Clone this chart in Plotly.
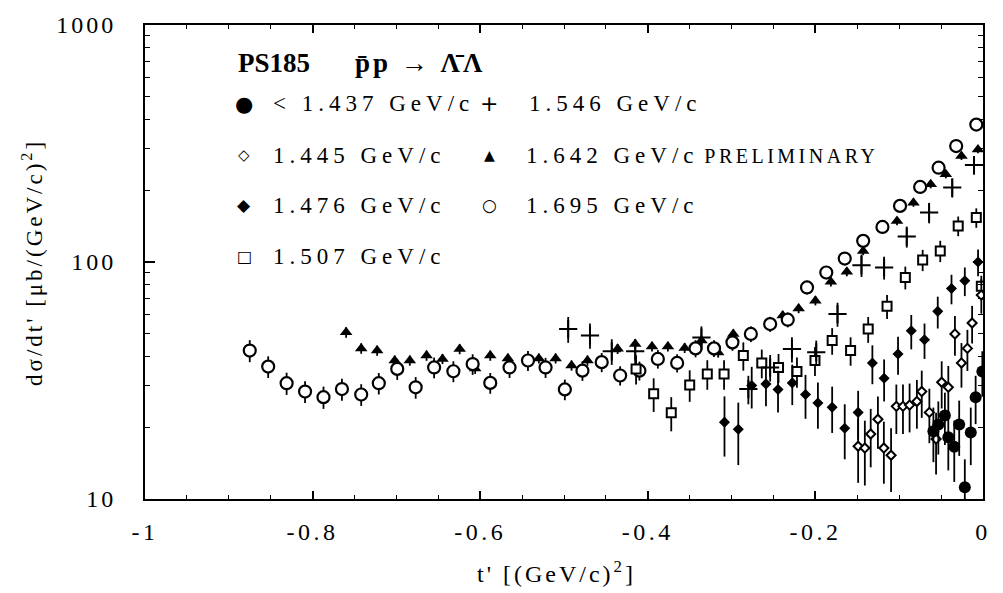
import plotly.graph_objects as go

# ---------------- data ----------------
# <1.437 GeV/c (filled circles)
t_1437 = [-0.0592, -0.0533, -0.0455, -0.0414, -0.0343, -0.0284, -0.0217, -0.0146, -0.0088, -0.0008]
s_1437 = [19.3, 20.6, 22.5, 18.2, 16.6, 20.6, 11.2, 19.1, 26.9, 34.5]
e_1437 = [5.0, 5.2, 5.6, 5.0, 4.8, 5.4, 3.5, 5.2, 6.2, 7.5]

# 1.445 GeV/c (open diamonds)
t_1445 = [-0.149, -0.141, -0.134, -0.1254, -0.1183, -0.1097, -0.1034, -0.0955, -0.0876, -0.0789,
          -0.0731, -0.064, -0.056, -0.0493, -0.0414, -0.0335, -0.0257, -0.0186, -0.013, -0.002]
s_1445 = [16.7, 16.4, 18.8, 21.7, 16.4, 15.3, 24.6, 24.6, 24.9, 25.8,
          28.4, 23.2, 17.9, 31.1, 29.6, 49.7, 37.5, 43.2, 55.3, 72.5]
e_1445 = [5.0, 5.0, 5.2, 5.4, 4.8, 4.6, 5.8, 5.8, 5.8, 6.0,
          6.4, 6.0, 5.2, 7.0, 6.8, 9.5, 8.0, 8.5, 10.0, 12.0]

# 1.476 GeV/c (filled diamonds)
t_1476 = [-0.3085, -0.292, -0.276, -0.259, -0.2446, -0.2276, -0.2118, -0.197, -0.180, -0.165,
          -0.149, -0.132, -0.118, -0.1014, -0.0856, -0.0698, -0.054, -0.0376, -0.0217, -0.0059]
s_1476 = [21.1, 19.7, 30.1, 30.6, 29.0, 30.9, 27.6, 25.4, 24.4, 19.9,
          23.2, 37.5, 32.3, 40.9, 51.3, 47.0, 61.9, 77.3, 83.3, 100.0]
e_1476 = [6.0, 5.8, 6.0, 6.0, 5.8, 6.0, 5.8, 5.6, 5.4, 5.2,
          5.4, 7.0, 6.5, 7.5, 8.5, 8.0, 9.5, 11.0, 11.5, 13.0]

# 1.507 GeV/c (open squares)
t_1507 = [-0.414, -0.393, -0.372, -0.350, -0.329, -0.309, -0.286, -0.264, -0.244, -0.222,
          -0.2005, -0.180, -0.158, -0.137, -0.1145, -0.0927, -0.072, -0.051, -0.0296, -0.008, -0.002]
s_1507 = [35.4, 27.8, 23.1, 30.3, 33.7, 33.7, 40.3, 37.5, 35.9, 34.5,
          38.4, 46.6, 42.3, 52.1, 65.0, 86.1, 102.0, 111.4, 142.0, 153.9, 79.0]
e_1507 = [5.0, 4.5, 3.8, 4.6, 4.8, 4.8, 5.5, 5.2, 5.0, 5.0,
          5.4, 6.0, 5.8, 6.5, 7.5, 9.5, 10.5, 11.5, 13.5, 14.5, 8.5]

# 1.546 GeV/c (crosses)
t_1546 = [-0.495, -0.469, -0.443, -0.415, -0.336, -0.280, -0.254, -0.228, -0.199, -0.1736,
          -0.145, -0.118, -0.091, -0.0643, -0.0367, -0.0107]
s_1546 = [52.1, 49.0, 42.0, 42.0, 48.0, 29.1, 35.9, 42.9, 41.6, 60.3,
          97.0, 94.8, 128.0, 161.6, 206.0, 256.6]
e_1546 = [6.5, 6.0, 5.2, 5.0, 5.5, 4.0, 4.6, 5.2, 5.0, 7.0,
          10.5, 10.5, 13.0, 16.0, 19.0, 23.0]

# 1.642 GeV/c PRELIMINARY (filled triangles)
t_1642 = [-0.760, -0.742, -0.723, -0.702, -0.684, -0.664, -0.645, -0.6245, -0.606, -0.588,
          -0.567, -0.530, -0.510, -0.491, -0.472, -0.436, -0.415, -0.395, -0.376, -0.356,
          -0.336, -0.316, -0.298, -0.239, -0.220, -0.200, -0.1815, -0.1625, -0.143, -0.1026,
          -0.083, -0.0624, -0.0444, -0.0257, -0.006]
s_1642 = [50.5, 43.2, 42.3, 38.4, 38.4, 40.3, 39.0, 42.9, 35.5, 40.3,
          39.2, 39.2, 39.2, 36.6, 38.4, 43.0, 45.1, 44.0, 44.0, 43.4,
          46.6, 41.5, 49.7, 59.4, 63.7, 68.7, 82.5, 90.9, 111.4, 149.0,
          178.0, 212.7, 234.4, 280.0, 298.5]
e_1642 = [2.6, 2.2, 2.1, 1.9, 1.9, 2.0, 1.9, 2.1, 1.8, 2.0,
          1.9, 1.9, 1.9, 1.8, 1.9, 2.1, 2.2, 2.1, 2.1, 2.1,
          2.2, 2.0, 2.3, 2.7, 2.9, 3.1, 3.6, 3.9, 4.6, 6.0,
          7.0, 8.2, 9.0, 10.5, 11.0]

# 1.695 GeV/c (open circles)
t_1695 = [-0.875, -0.853, -0.831, -0.809, -0.787, -0.765, -0.742, -0.721, -0.699, -0.677,
          -0.655, -0.632, -0.609, -0.588, -0.565, -0.543, -0.522, -0.499, -0.478, -0.455,
          -0.433, -0.410, -0.388, -0.365, -0.343, -0.321, -0.299, -0.277, -0.254, -0.233,
          -0.210, -0.187, -0.165, -0.143, -0.120, -0.099, -0.075, -0.053, -0.032, -0.008]
s_1695 = [42.3, 36.2, 30.8, 28.4, 26.9, 29.1, 27.6, 30.8, 35.4, 29.6,
          35.9, 34.6, 37.1, 30.9, 35.9, 38.4, 35.9, 29.0, 34.8, 37.8,
          33.2, 34.8, 39.0, 37.5, 43.2, 43.2, 45.8, 49.7, 54.7, 57.1,
          78.1, 90.3, 103.4, 122.8, 140.6, 172.5, 207.4, 250.0, 308.5, 380.0]
e_1695 = [4.5, 3.8, 3.3, 3.0, 2.9, 3.1, 2.9, 3.2, 3.6, 3.1,
          3.6, 3.5, 3.7, 3.1, 3.5, 3.7, 3.5, 2.9, 3.3, 3.5,
          3.1, 3.2, 3.5, 3.3, 3.6, 3.5, 3.6, 3.8, 4.0, 4.1,
          5.2, 5.8, 6.4, 7.3, 8.2, 9.6, 11.0, 13.0, 15.0, 18.0]

x_tickvals = [-1, -0.8, -0.6, -0.4, -0.2, 0]
x_ticklabels = ["-1", "-0.8", "-0.6", "-0.4", "-0.2", "0"]
y_tickvals = [10, 100, 1000]
y_ticklabels = ["10", "100", "1000"]
y_minor = [m * d for d in (10, 100) for m in range(2, 10)]

legend_title = "PS185"
legend_reaction = "p\u0304p \u2192 \u039b\u0304\u039b"
labels = {
    "1437": "< 1.437 GeV/c",
    "1445": "1.445 GeV/c",
    "1476": "1.476 GeV/c",
    "1507": "1.507 GeV/c",
    "1546": "1.546 GeV/c",
    "1642": "1.642 GeV/c",
    "1695": "1.695 GeV/c",
}
preliminary = "PRELIMINARY"
x_title = "t' [(GeV/c)<sup>2</sup>]"
y_title = "d\u03c3/dt' [\u03bcb/(GeV/c)<sup>2</sup>]"

# ---------------- layout geometry ----------------
W, H = 1003, 593
ML, MR, MT, MB = 145, 13, 25, 94
PW, PH = W - ML - MR, H - MT - MB
FONT = "'Liberation Serif', 'Times New Roman', Times, serif"


def px(xp):
    return (xp - ML) / PW


def py(yp):
    return (H - MB - yp) / PH


def spaced(s, ls):
    return f"<span style='letter-spacing:{ls}px'>{s}</span>"


fig = go.Figure()


def add(t, s, e, name, symbol, size, color, line_w, line_c="black"):
    fig.add_trace(go.Scatter(
        x=t, y=s, mode="markers", name=name, showlegend=False,
        marker=dict(symbol=symbol, size=size, color=color,
                    line=dict(width=line_w, color=line_c)),
        error_y=dict(type="data", array=e, color="black", thickness=1.8, width=0),
    ))


add(t_1642, s_1642, e_1642, labels["1642"], "triangle-up", 11, "black", 0)
add(t_1695, s_1695, e_1695, labels["1695"], "circle", 12, "white", 2.2)
add(t_1507, s_1507, e_1507, labels["1507"], "square", 9, "white", 2)
add(t_1546, s_1546, e_1546, labels["1546"], "cross-thin", 13, "black", 2)
add(t_1476, s_1476, e_1476, labels["1476"], "diamond", 8.5, "black", 0)
add(t_1445, s_1445, e_1445, labels["1445"], "diamond", 7, "white", 2)
add(t_1437, s_1437, e_1437, labels["1437"], "circle", 12, "black", 0)

ann = []
# legend title
ann.append(dict(x=px(237), y=py(63), xref="paper", yref="paper", xanchor="left", yanchor="middle",
                text=f"<b>{legend_title}</b>", showarrow=False,
                font=dict(family=FONT, size=27, color="black")))
ann.append(dict(x=px(355), y=py(63), xref="paper", yref="paper", xanchor="left", yanchor="middle",
                text=f"<b>{spaced(legend_reaction, 3)}</b>", showarrow=False,
                font=dict(family=FONT, size=27, color="black")))

# legend rows: (symbol, symbol size, symbol x, label key, text x, row y)
rows = [
    ("\u25cf", 21, 245, "1437", 272, 104),
    ("\u25c7", 15, 245, "1445", 272, 155),
    ("\u25c6", 17, 245, "1476", 272, 205),
    ("\u25a1", 16, 245, "1507", 272, 256),
    ("+", 22, 492, "1546", 530, 104),
    ("\u25b2", 14, 492, "1642", 527, 155),
    ("\u25cb", 17, 492, "1695", 527, 205),
]
for sym, ssize, sx, key, tx, ry in rows:
    ann.append(dict(x=px(sx), y=py(ry), xref="paper", yref="paper", xanchor="center", yanchor="middle",
                    text=sym, showarrow=False,
                    font=dict(family="DejaVu Sans", size=ssize, color="black")))
    txt = spaced(labels[key], 5)
    if key == "1642":
        txt += " " + f"<span style='font-size:20px;letter-spacing:3.5px'>{preliminary}</span>"
    ann.append(dict(x=px(tx), y=py(ry), xref="paper", yref="paper", xanchor="left", yanchor="middle",
                    text=txt, showarrow=False,
                    font=dict(family=FONT, size=23, color="black")))

# axis titles
ann.append(dict(x=px(560), y=py(572), xref="paper", yref="paper", xanchor="center", yanchor="middle",
                text=spaced(x_title, 3), showarrow=False,
                font=dict(family=FONT, size=24, color="black")))
ann.append(dict(x=px(31), y=py(262), xref="paper", yref="paper", xanchor="center", yanchor="middle",
                text=spaced(y_title, 3), showarrow=False, textangle=-90,
                font=dict(family=FONT, size=23, color="black")))

fig.update_layout(
    width=W, height=H,
    margin=dict(l=ML, r=MR, t=MT, b=MB),
    paper_bgcolor="white", plot_bgcolor="white",
    font=dict(family=FONT, color="black"),
    annotations=ann,
    showlegend=False,
)
fig.update_xaxes(
    range=[-1, 0], tickmode="array", tickvals=x_tickvals,
    ticktext=[spaced(t, 3.5) for t in x_ticklabels],
    tickfont=dict(family=FONT, size=24, color="black"),
    ticks="inside", ticklen=8, tickwidth=1.5, tickcolor="black",
    ticklabelstandoff=10,
    minor=dict(dtick=0.05, ticks="inside", ticklen=4, tickwidth=1.2, tickcolor="black", showgrid=False),
    showline=True, linewidth=2, linecolor="black", mirror="allticks",
    showgrid=False, zeroline=False,
)
fig.update_yaxes(
    type="log", range=[1, 3], tickmode="array", tickvals=y_tickvals,
    ticktext=[spaced(t, 3) for t in y_ticklabels],
    tickfont=dict(family=FONT, size=24, color="black"),
    ticks="inside", ticklen=10, tickwidth=1.5, tickcolor="black",
    ticklabelstandoff=22,
    minor=dict(tickmode="array", tickvals=y_minor, ticks="inside", ticklen=5, tickwidth=1.2,
               tickcolor="black", showgrid=False),
    showline=True, linewidth=2, linecolor="black", mirror="allticks",
    showgrid=False, zeroline=False,
)

fig.write_html("out.html")
